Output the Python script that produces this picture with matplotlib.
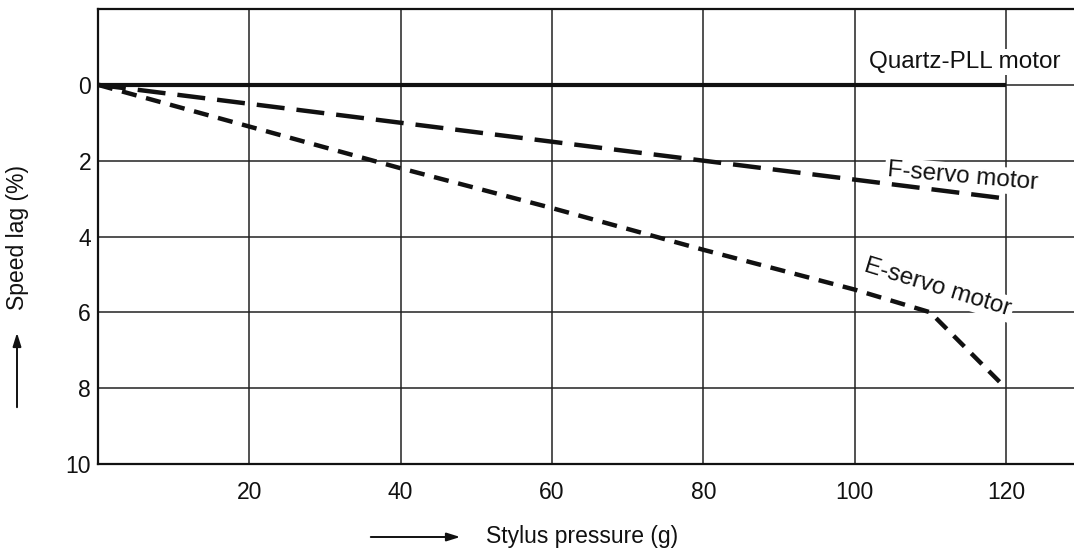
import matplotlib
matplotlib.use("Agg")
import matplotlib.pyplot as plt

# Data
quartz_x = [0, 120]
quartz_y = [0, 0]
fservo_x = [0, 40, 60, 80, 100, 120]
fservo_y = [0, 1.0, 1.5, 2.0, 2.5, 3.0]
eservo_x = [0, 20, 40, 60, 80, 100, 110, 120]
eservo_y = [0, 1.1, 2.2, 3.25, 4.35, 5.4, 6.0, 8.0]
xticks = [20, 40, 60, 80, 100, 120]
yticks = [0, 2, 4, 6, 8, 10]

plt.rcParams['font.family'] = ['Liberation Sans', 'DejaVu Sans']

fig = plt.figure(figsize=(10.74, 5.51), dpi=100)
ax = fig.add_axes([98/1074, 1-464/551, 1-98/1074, (464-9)/551])

ax.set_xlim(0, 129)
ax.set_ylim(10, -2)

for x in xticks:
    ax.axvline(x, color='#222222', lw=1.1, zorder=1)
for y in [0, 2, 4, 6, 8]:
    ax.axhline(y, color='#222222', lw=1.1, zorder=1)

ax.plot(quartz_x, quartz_y, color='#111111', lw=3.0, solid_capstyle='butt', zorder=3)
ax.plot(fservo_x, fservo_y, color='#111111', lw=3.2, dashes=(6.3, 2.7), zorder=3)
ax.plot(eservo_x, eservo_y, color='#111111', lw=3.2, dashes=(3.4, 2.2), zorder=3)

ax.set_xticks(xticks)
ax.set_yticks(yticks)
ax.set_xticklabels([str(v) for v in xticks])
ax.set_yticklabels([str(v) for v in yticks])
ax.tick_params(axis='both', length=0, labelsize=16.5, colors='#111111')
ax.tick_params(axis='x', pad=12)
ax.tick_params(axis='y', pad=5)

for s in ['left', 'bottom', 'top']:
    ax.spines[s].set_linewidth(1.6)
    ax.spines[s].set_color('#111111')
ax.spines['right'].set_visible(False)

bbox = dict(facecolor='white', edgecolor='none', pad=1.5)
ax.text(101.9, -0.6, 'Quartz-PLL motor', fontsize=17.5, ha='left', va='center',
        color='#111111', bbox=bbox, zorder=2)
ax.text(104.3, 2.25, 'F-servo motor', fontsize=17.5, ha='left', va='center',
        rotation=-5, rotation_mode='anchor', color='#111111', bbox=bbox, zorder=2)
ax.text(111.0, 5.35, 'E-servo motor', fontsize=17.5, ha='center', va='center',
        rotation=-17, rotation_mode='anchor', color='#111111', bbox=bbox, zorder=2)

# axis labels with arrows
fig.text(582/1074, 1-537/551, 'Stylus pressure (g)', fontsize=16.5, ha='center', va='center', color='#111111')
fig.text(18/1074, 1-238/551, 'Speed lag (%)', fontsize=16.5, ha='center', va='center', rotation=90, color='#111111')
fig.add_artist(matplotlib.patches.FancyArrowPatch((368/1074, 1-537/551), (463/1074, 1-537/551),
               transform=fig.transFigure, arrowstyle='-|>,head_length=8,head_width=2.5', lw=1.4, color='#111111'))
fig.add_artist(matplotlib.patches.FancyArrowPatch((17/1074, 1-410/551), (17/1074, 1-330/551),
               transform=fig.transFigure, arrowstyle='-|>,head_length=8,head_width=2.5', lw=1.4, color='#111111'))

fig.savefig('out.png', dpi=100)
